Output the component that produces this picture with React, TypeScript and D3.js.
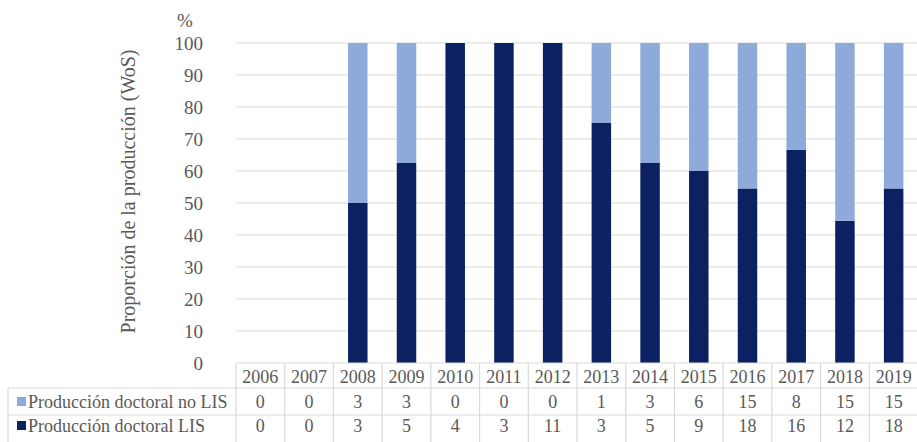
import React from "react";
import * as d3 from "d3";

const years = ["2006","2007","2008","2009","2010","2011","2012","2013","2014","2015","2016","2017","2018","2019"];
const noLis = [0,0,3,3,0,0,0,1,3,6,15,8,15,15];
const lis = [0,0,3,5,4,3,11,3,5,9,18,16,12,18];
const yTicks = [0,10,20,30,40,50,60,70,80,90,100];
const seriesNames = ["Producción doctoral no LIS","Producción doctoral LIS"];
const seriesColors = ["#8eaadb","#0b2161"];

const W = 917, H = 442;
const FONT = "'Liberation Serif', 'DejaVu Serif', 'Times New Roman', serif";
const TXT = "#595959";
const GRID = "#d9d9d9";

export default function App() {
  const x = d3.scaleBand<string>().domain(years).range([236, 918]).paddingInner(0.6).paddingOuter(0.3);
  const y = d3.scaleLinear().domain([0, 100]).range([363, 43]);
  const step = x.step();
  const left = x.range()[0];
  const right = x.range()[1];
  const rows = [363, 388, 415, 442];

  const data = years.map((yr, i) => {
    const tot = lis[i] + noLis[i];
    const pLis = tot ? (lis[i] / tot) * 100 : 0;
    const pNo = tot ? (noLis[i] / tot) * 100 : 0;
    return { yr, pLis, pNo };
  });
  const stack = d3.stack<any>().keys(["pLis", "pNo"])(data as any);

  return (
    <svg width={W} height={H} style={{ position: "absolute", left: 0, top: 0, background: "#fff", fontFamily: FONT }}>
      {yTicks.map((t) => (
        <g key={t}>
          {t > 0 && <line x1={left} x2={right} y1={y(t)} y2={y(t)} stroke={GRID} strokeWidth={1.2} />}
          <text x={203} y={y(t)} dy="0.35em" textAnchor="end" fontSize={19} fill={TXT} style={{ fontFamily: FONT }}>{t}</text>
        </g>
      ))}
      <text x={185} y={20} dy="0.35em" textAnchor="middle" fontSize={19} fill={TXT} style={{ fontFamily: FONT }}>%</text>
      <text transform={`translate(128,${(43 + 340) / 2}) rotate(-90)`} textAnchor="middle" dy="0.35em" fontSize={20} fill={TXT} style={{ fontFamily: FONT }}>
        Proporción de la producción (WoS)
      </text>
      {stack.map((s, si) => (
        <g key={si} fill={si === 0 ? seriesColors[1] : seriesColors[0]}>
          {s.map((d: any, i: number) => (
            d[1] - d[0] > 0 ? (
              <rect key={i} x={x(years[i])} width={x.bandwidth()} y={y(d[1])} height={y(d[0]) - y(d[1])} />
            ) : null
          ))}
        </g>
      ))}
      <line x1={left} x2={right} y1={rows[0]} y2={rows[0]} stroke={GRID} strokeWidth={1.2} />
      <line x1={8} x2={right} y1={rows[1]} y2={rows[1]} stroke={GRID} strokeWidth={1.2} />
      <line x1={8} x2={right} y1={rows[2]} y2={rows[2]} stroke={GRID} strokeWidth={1.2} />
      <line x1={8} x2={8} y1={rows[1]} y2={rows[3]} stroke={GRID} strokeWidth={1.2} />
      {years.map((yr, i) => (
        <line key={"v" + yr} x1={left + i * step} x2={left + i * step} y1={rows[0]} y2={rows[3]} stroke={GRID} strokeWidth={1.2} />
      ))}
      {years.map((yr, i) => {
        const cx = left + (i + 0.5) * step;
        return (
          <g key={"t" + yr} fontSize={18} fill={TXT} textAnchor="middle" style={{ fontFamily: FONT }}>
            <text x={cx} y={(rows[0] + rows[1]) / 2 + 1} dy="0.35em">{yr}</text>
            <text x={cx} y={(rows[1] + rows[2]) / 2} dy="0.35em">{noLis[i]}</text>
            <text x={cx} y={(rows[2] + rows[3]) / 2 - 3} dy="0.35em">{lis[i]}</text>
          </g>
        );
      })}
      {seriesNames.map((nm, i) => {
        const cy = i === 0 ? (rows[1] + rows[2]) / 2 : (rows[2] + rows[3]) / 2 - 3;
        return (
          <g key={nm}>
            <rect x={17} y={cy - 4.5} width={9} height={9} fill={seriesColors[i]} />
            <text x={28} y={cy} dy="0.35em" fontSize={18} fill={TXT} style={{ fontFamily: FONT }}>{nm}</text>
          </g>
        );
      })}
    </svg>
  );
}
